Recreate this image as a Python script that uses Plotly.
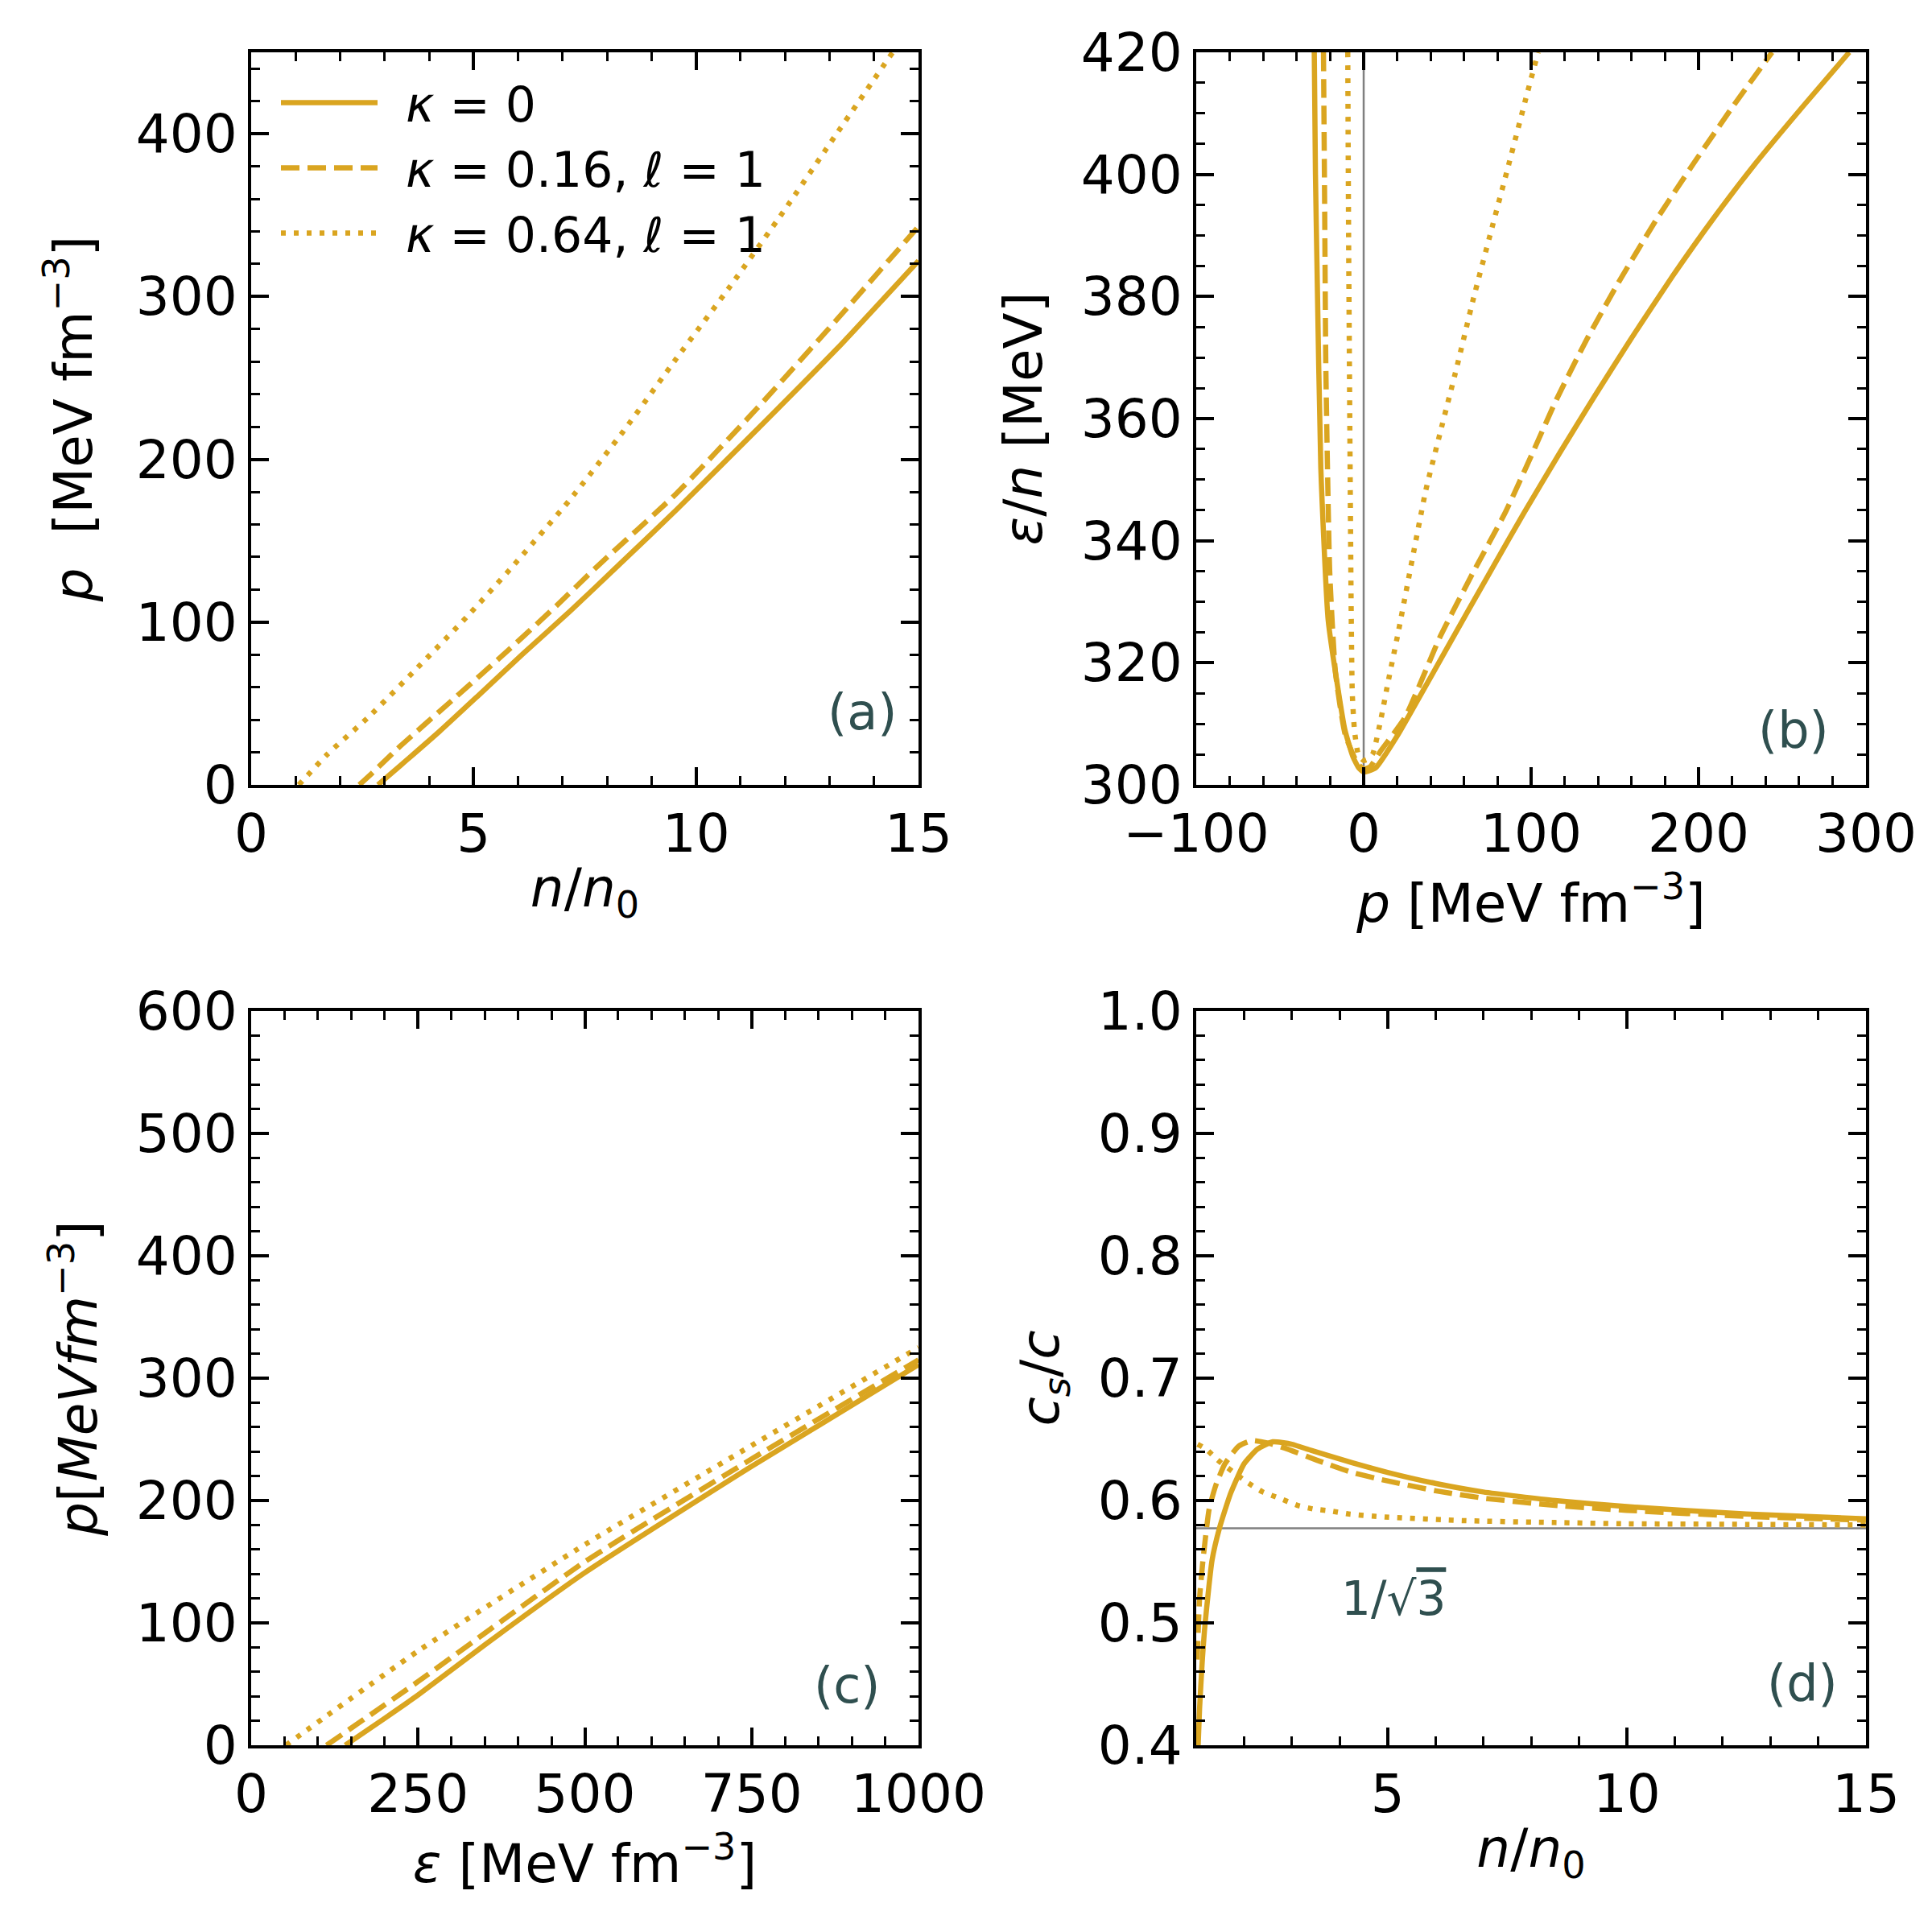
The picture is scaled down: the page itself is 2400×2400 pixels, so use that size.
import math
import plotly.graph_objects as go

GOLD = "#DAA520"
LABEL = "#2F4F4F"
FONT = "DejaVu Sans"

# (a) pressure vs density
a_n_k0 = [2.85, 3.36, 4.24, 5.11, 6.09, 7.18, 8.3, 9.56, 11.36, 13.17, 15.0]
a_p_k0 = [0, 12, 33, 55, 80, 107, 136, 169, 218, 268, 322]
a_n_k16 = [2.43, 2.71, 3.36, 4.56, 5.71, 6.86, 7.77, 9.56, 11.36, 13.17, 15.0]
a_p_k16 = [0, 7, 24, 53, 81, 110, 134, 179, 231, 286, 343]
a_n_k64 = [1.07, 1.72, 2.65, 3.74, 4.84, 5.87, 7.16, 8.36, 9.56, 10.76, 11.96, 13.16, 14.42]
a_p_k64 = [0, 19, 42, 72, 103, 134, 175, 217, 262, 306, 352, 400, 450]

# (b) energy per particle vs pressure
b_p_k0 = [-29.5, -28.8, -27.9, -25.6, -21.2, -15.2, -11.2, -6.4, -3, 0, 3, 7.2, 20, 39.3,
          61.7, 76.4, 95.6, 116.9, 138.2, 159.5, 184.4, 209.2, 234, 262.5, 290]
b_e_k0 = [420, 400, 385.5, 352, 327, 315.5, 309, 304.6, 302.8, 302.1, 302.3, 302.8, 308,
          317.3, 328.2, 335.3, 344.5, 354.3, 363.8, 373, 383.3, 392.9, 401.8, 411.2, 420]
b_p_k16 = [-24, -23.3, -22.6, -20.3, -16.8, -11, -3.9, 0, 4, 10, 24.8, 45.7, 65, 84.9,
           100.9, 115.1, 132.9, 152.4, 173.7, 196.8, 219.9, 243.9]
b_e_k16 = [420, 395, 368.7, 335.1, 318.3, 308.2, 303.6, 302.6, 303, 305.5, 311.1, 324.3,
           334.6, 344.8, 354.4, 363.1, 372.8, 382.4, 392.1, 401.7, 410.9, 420]
b_p_k64 = [-9.5, -9.0, -8.3, -7.5, -6.8, -5.5, -3.2, 0, 3, 5.6, 10.4, 14.4, 20.8, 37,
           45.8, 55.6, 65.4, 76, 86.7, 97.3, 104.2]
b_e_k64 = [420, 390, 360, 330, 315, 309, 305, 304, 304.3, 305.2, 310.9, 316.6, 325.2,
           348.1, 357.8, 368.4, 379.5, 390.6, 401.7, 412.9, 420]

# (c) pressure vs energy density
c_e_k0 = [141, 200, 250, 350, 500, 750, 1000]
c_p_k0 = [0, 22, 41, 82, 141, 228, 311]
c_e_k16 = [113, 250, 500, 750, 1000]
c_p_k16 = [0, 52, 150, 234, 315]
c_e_k64 = [52, 250, 500, 750, 1000]
c_p_k64 = [0, 77, 164, 245, 325]

# (d) speed of sound
d_n_k0 = [1.04, 1.07, 1.12, 1.18, 1.33, 1.49, 1.72, 2.0, 2.28, 2.6, 3.0, 3.4, 4.25, 5.0,
          6.0, 7.0, 8.5, 10, 12.5, 15]
d_c_k0 = [0.40, 0.43, 0.465, 0.497, 0.551, 0.578, 0.606, 0.63, 0.642, 0.648, 0.646, 0.641,
          0.631, 0.623, 0.614, 0.607, 0.6, 0.595, 0.589, 0.585]
d_n_k16 = [1.02, 1.07, 1.14, 1.27, 1.41, 1.6, 1.89, 2.17, 2.5, 2.84, 3.52, 4.25, 5.0, 6.0,
           7.0, 8.5, 10, 12.5, 15]
d_c_k16 = [0.47, 0.52, 0.551, 0.593, 0.6125, 0.63, 0.6445, 0.649, 0.647, 0.643, 0.633,
           0.623, 0.616, 0.608, 0.602, 0.596, 0.592, 0.587, 0.584]
d_n_k64 = [1.03, 1.21, 1.45, 1.75, 2.06, 2.39, 2.73, 3.12, 3.46, 3.8, 4.19, 4.95, 6.64,
           8.5, 10, 12.5, 15]
d_c_k64 = [0.646, 0.642, 0.633, 0.624, 0.615, 0.607, 0.602, 0.596, 0.593, 0.5915, 0.589,
           0.5865, 0.5835, 0.582, 0.581, 0.5805, 0.58]

# en-space keeps a gap between the legend sample and its text
names = ["\u2002<i>κ</i> = 0", "\u2002<i>κ</i> = 0.16, <i>ℓ</i> = 1",
         "\u2002<i>κ</i> = 0.64, <i>ℓ</i> = 1"]
dashes = ["solid", "23px,10px", "6px,10px"]

panels = [
    ("x", "y", [(a_n_k0, a_p_k0), (a_n_k16, a_p_k16), (a_n_k64, a_p_k64)]),
    ("x2", "y2", [(b_p_k0, b_e_k0), (b_p_k16, b_e_k16), (b_p_k64, b_e_k64)]),
    ("x3", "y3", [(c_e_k0, c_p_k0), (c_e_k16, c_p_k16), (c_e_k64, c_p_k64)]),
    ("x4", "y4", [(d_n_k0, d_c_k0), (d_n_k16, d_c_k16), (d_n_k64, d_c_k64)]),
]

fig = go.Figure()

# reference lines
fig.add_trace(go.Scatter(x=[0, 0], y=[300, 420], mode="lines", xaxis="x2", yaxis="y2",
                         line=dict(color="#808080", width=2.5), showlegend=False))
fig.add_trace(go.Scatter(x=[1, 15], y=[1 / math.sqrt(3)] * 2, mode="lines", xaxis="x4",
                         yaxis="y4", line=dict(color="#808080", width=2.5), showlegend=False))

for k, (xa, ya, series) in enumerate(panels):
    for i, (xs, ys) in enumerate(series):
        fig.add_trace(go.Scatter(
            x=xs, y=ys, mode="lines", xaxis=xa, yaxis=ya,
            name=names[i], showlegend=(k == 0),
            line=dict(color=GOLD, width=6.5, dash=dashes[i], shape="spline", smoothing=0.5),
        ))


def axis(domain, rng, dtick, minor, title, anchor, standoff, tickfmt=None, tick0=None):
    d = dict(
        domain=domain, range=rng, dtick=dtick, anchor=anchor, automargin=False,
        showgrid=False, zeroline=False, showline=True, linecolor="black", linewidth=4,
        mirror="allticks", ticks="inside", ticklen=22, tickwidth=4, tickcolor="black",
        minor=dict(ticks="inside", dtick=minor, ticklen=11, tickwidth=3, tickcolor="black",
                   showgrid=False),
        tickfont=dict(family=FONT, size=66, color="black"),
        title=dict(text=title, font=dict(family=FONT, size=66, color="black"),
                   standoff=standoff),
    )
    if tickfmt:
        d["tickformat"] = tickfmt
    if tick0 is not None:
        d["tick0"] = tick0
    return d


xl = [304 / 2400, 1133 / 2400]
xr = [1478 / 2400, 2310 / 2400]
yt = [1 - 967 / 2400, 1 - 57 / 2400]
yb = [1 - 2160 / 2400, 1 - 1248 / 2400]

unit = "[MeV fm<sup>−3</sup>]"

fig.update_layout(
    width=2400, height=2400,
    margin=dict(l=0, r=0, t=0, b=0, autoexpand=False),
    plot_bgcolor="white", paper_bgcolor="white",
    font=dict(family=FONT, color="black"),
    xaxis=axis(xl, [0, 15], 5, 1, "<i>n</i>/<i>n</i><sub>0</sub>", "y", 8),
    yaxis=axis(yt, [0, 450], 100, 20, "<i>p</i>  " + unit, "x", 34),
    xaxis2=axis(xr, [-100, 300], 100, 20, "<i>p</i> " + unit, "y2", 16),
    yaxis2=axis(yt, [300, 420], 20, 5, "<i>ε</i>/<i>n</i> [MeV]", "x2", 28),
    xaxis3=axis(xl, [0, 1000], 250, 50, "<i>ε</i> " + unit, "y3", 12),
    yaxis3=axis(yb, [0, 600], 100, 20, "<i>p</i>[<i>MeVfm</i><sup>−3</sup>]", "x3", 28),
    xaxis4=axis(xr, [1, 15], 5, 1, "<i>n</i>/<i>n</i><sub>0</sub>", "y4", 8, tick0=0),
    yaxis4=axis(yb, [0.4, 1.0], 0.1, 0.02, "<i>c<sub>s</sub></i>/<i>c</i>", "x4", 28,
                tickfmt=".1f"),
    legend=dict(x=336 / 2400, y=1 - 74 / 2400, xanchor="left", yanchor="top",
                bgcolor="rgba(0,0,0,0)", font=dict(family=FONT, size=60, color="black"),
                itemwidth=120, tracegroupgap=0),
    showlegend=True,
)

tags = [("x", "y", 14.55, 45, "(a)"), ("x2", "y2", 279, 309, "(b)"),
        ("x3", "y3", 945, 49, "(c)"), ("x4", "y4", 14.45, 0.451, "(d)")]
for xa, ya, xv, yv, txt in tags:
    fig.add_annotation(x=xv, y=yv, xref=xa, yref=ya, text=txt, showarrow=False,
                       xanchor="right", yanchor="middle",
                       font=dict(family=FONT, size=62, color=LABEL))

fig.add_annotation(x=4.0, y=0.52, xref="x4", yref="y4",
                   text="1/√<span style='text-decoration:overline'>3</span>",
                   showarrow=False, xanchor="left", yanchor="middle",
                   font=dict(family=FONT, size=58, color=LABEL))

fig.write_html("out.html")
